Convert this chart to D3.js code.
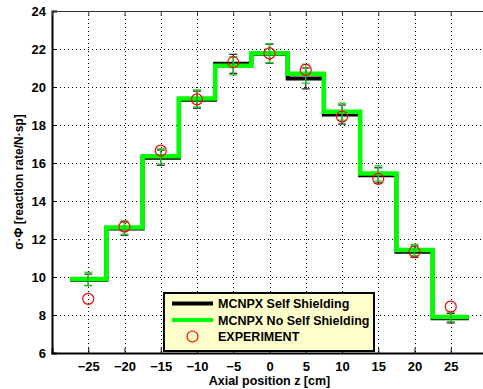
<!DOCTYPE html>
<html>
<head>
<meta charset="utf-8">
<script src="https://cdn.jsdelivr.net/npm/d3@7"></script>
<style>
  html, body { margin: 0; padding: 0; background: #fff; }
  svg { display: block; font-family: "Liberation Sans", Arial, sans-serif; }
</style>
</head>
<body>
<div id="chart"></div>
<script>
// ---- data ----
const positions = [-25, -20, -15, -10, -5, 0, 5, 10, 15, 20, 25];          // bin centres [cm]
const binWidth = 5;
const selfShielding   = [9.85, 12.55, 16.28, 19.33, 21.22, 21.75, 20.45, 18.55, 15.35, 11.33, 7.83];
const selfShieldErr   = [0.30, 0.35, 0.40, 0.45, 0.50, 0.50, 0.55, 0.50, 0.40, 0.30, 0.25];
const noSelfShielding = [9.90, 12.60, 16.35, 19.40, 21.12, 21.78, 20.70, 18.70, 15.45, 11.42, 7.90];
const noSelfShieldErr = [0.35, 0.35, 0.40, 0.45, 0.48, 0.50, 0.50, 0.45, 0.40, 0.30, 0.25];
const experiment      = [8.85, 12.65, 16.65, 19.35, 21.30, 21.77, 20.90, 18.44, 15.16, 11.33, 8.44];
const xTicks = [-25, -20, -15, -10, -5, 0, 5, 10, 15, 20, 25];
const yTicks = [6, 8, 10, 12, 14, 16, 18, 20, 22, 24];
const legendLabels = ["MCNPX Self Shielding", "MCNPX No Self Shielding", "EXPERIMENT"];

// ---- layout ----
const width = 483, height = 389;
const margin = { left: 52, top: 11, right: -4, bottom: 36 };  // right edge of the frame falls outside the picture
const plotW = width - margin.left - margin.right;
const plotH = height - margin.top - margin.bottom;

const blackColor = "#000";
const greenColor = "#00ff00";
const expColor = "#ff0000";
const tickFont = 13;

const x = d3.scaleLinear().domain([-30, 30]).range([margin.left, margin.left + plotW]);
const y = d3.scaleLinear().domain([6, 24]).range([margin.top + plotH, margin.top]);

const svg = d3.select("#chart").append("svg")
  .attr("width", width)
  .attr("height", height);

// grid (dotted)
const grid = svg.append("g").attr("stroke", "#000").attr("stroke-width", 1).attr("stroke-dasharray", "1,3");
grid.selectAll("line.gx").data(xTicks).join("line")
  .attr("x1", d => Math.round(x(d)) + 0.5).attr("x2", d => Math.round(x(d)) + 0.5)
  .attr("y1", y(24)).attr("y2", y(6));
grid.selectAll("line.gy").data(yTicks.filter(d => d > 6 && d < 24)).join("line")
  .attr("y1", d => Math.round(y(d)) + 0.5).attr("y2", d => Math.round(y(d)) + 0.5)
  .attr("x1", x(-30)).attr("x2", x(30));

// step path for one series
function stepPoints(values) {
  const pts = [];
  positions.forEach((p, i) => {
    pts.push([p - binWidth / 2, values[i]]);
    pts.push([p + binWidth / 2, values[i]]);
  });
  return pts;
}
const line = d3.line().x(d => x(d[0])).y(d => y(d[1]));

svg.append("path")
  .attr("d", line(stepPoints(selfShielding)))
  .attr("fill", "none").attr("stroke", blackColor).attr("stroke-width", 4);

svg.append("path")
  .attr("d", line(stepPoints(noSelfShielding)))
  .attr("fill", "none").attr("stroke", greenColor).attr("stroke-width", 4.5);

// error bars
function errorBars(values, errs, color) {
  const g = svg.append("g").attr("stroke", color).attr("stroke-width", 1.3);
  positions.forEach((p, i) => {
    const cx = x(p), top = y(values[i] + errs[i]), bot = y(values[i] - errs[i]);
    g.append("line").attr("x1", cx).attr("x2", cx).attr("y1", top).attr("y2", bot);
    g.append("line").attr("x1", cx - 4).attr("x2", cx + 4).attr("y1", top).attr("y2", top);
    g.append("line").attr("x1", cx - 4).attr("x2", cx + 4).attr("y1", bot).attr("y2", bot);
  });
}
errorBars(selfShielding, selfShieldErr, "#333");
errorBars(noSelfShielding, noSelfShieldErr, "#22cc22");

// experiment points
svg.append("g").selectAll("circle").data(positions).join("circle")
  .attr("cx", d => x(d))
  .attr("cy", (d, i) => y(experiment[i]))
  .attr("r", 5.5)
  .attr("fill", "none").attr("stroke", expColor).attr("stroke-width", 1.2);

// axes
const xAxis = svg.append("g").attr("transform", `translate(0,${y(6)})`)
  .call(d3.axisBottom(x).tickValues(xTicks).tickSize(-5).tickPadding(9));
const yAxis = svg.append("g").attr("transform", `translate(${x(-30)},0)`)
  .call(d3.axisLeft(y).tickValues(yTicks).tickSize(-5).tickPadding(6));
const xTop = svg.append("g").attr("transform", `translate(0,${y(24)})`)
  .call(d3.axisTop(x).tickValues(xTicks).tickSize(-5).tickFormat(""));

[xAxis, yAxis].forEach(a => {
  a.select(".domain").attr("stroke", "#000").attr("stroke-width", 2);
  a.selectAll(".tick line").attr("stroke", "#000");
  a.selectAll("text").attr("fill", "#000").attr("font-size", tickFont).attr("font-weight", "bold")
    .attr("font-family", "'Liberation Sans', Arial, sans-serif");
});
xTop.select(".domain").attr("stroke", "#333").attr("stroke-width", 1.2);
xTop.selectAll(".tick line").attr("stroke", "#333");

// axis titles
svg.append("text")
  .attr("x", x(0)).attr("y", 385)
  .attr("text-anchor", "middle").attr("font-size", 12.5).attr("font-weight", "bold")
  .text("Axial position z [cm]");
svg.append("text")
  .attr("transform", `translate(23,${(y(6) + y(24)) / 2}) rotate(-90)`)
  .attr("text-anchor", "middle").attr("font-size", 12).attr("font-weight", "bold")
  .text("σ·Φ [reaction rate/N·sp]");

// legend
const legend = svg.append("g");
legend.append("rect")
  .attr("x", 164).attr("y", 293).attr("width", 210).attr("height", 58)
  .attr("fill", "#ffffcc").attr("stroke", "#000").attr("stroke-width", 2);
const rowY = [303.5, 320, 336.5];
legend.append("line").attr("x1", 172).attr("x2", 213).attr("y1", rowY[0]).attr("y2", rowY[0])
  .attr("stroke", blackColor).attr("stroke-width", 4);
legend.append("line").attr("x1", 172).attr("x2", 213).attr("y1", rowY[1]).attr("y2", rowY[1])
  .attr("stroke", greenColor).attr("stroke-width", 4);
legend.append("circle").attr("cx", 192.5).attr("cy", rowY[2]).attr("r", 5.5)
  .attr("fill", "none").attr("stroke", expColor).attr("stroke-width", 1.2);
legend.selectAll("text").data(legendLabels).join("text")
  .attr("x", 218).attr("y", (d, i) => rowY[i] + 4.5)
  .attr("font-size", 12.5).attr("font-weight", "bold")
  .text(d => d);
</script>
</body>
</html>
